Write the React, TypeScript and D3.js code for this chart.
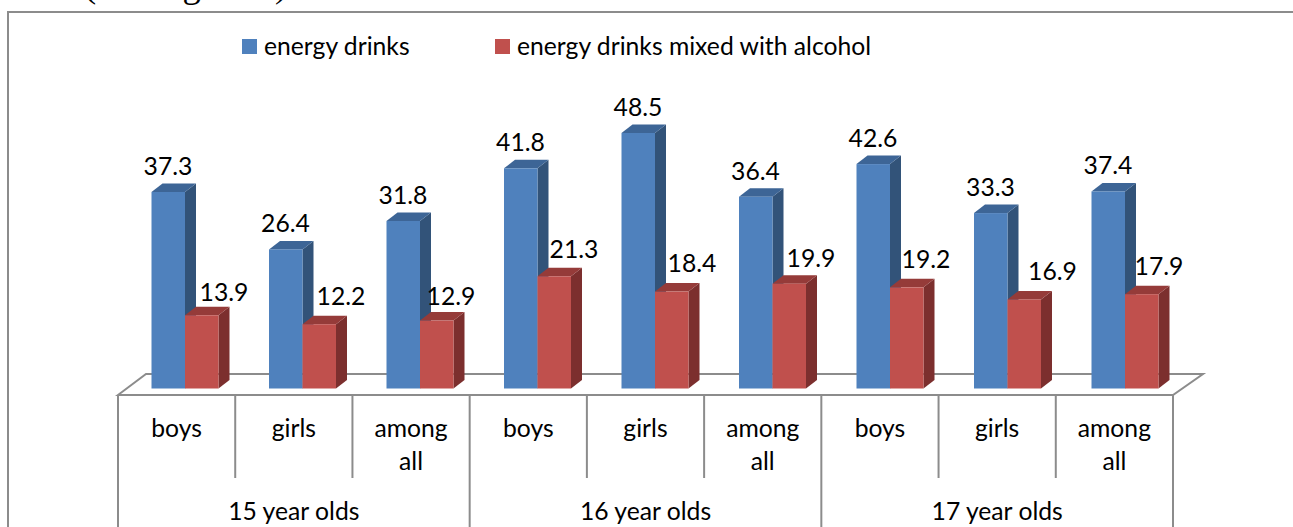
import React from "react";
import * as d3 from "d3";

const W = 1293, H = 527;
const categories = ["boys", "girls", "among all", "boys", "girls", "among all", "boys", "girls", "among all"];
const groups = ["15 year olds", "16 year olds", "17 year olds"];
const energy = [37.3, 26.4, 31.8, 41.8, 48.5, 36.4, 42.6, 33.3, 37.4];
const mixed = [13.9, 12.2, 12.9, 21.3, 18.4, 19.9, 19.2, 16.9, 17.9];
const seriesNames = ["energy drinks", "energy drinks mixed with alcohol"];
const FONT = "Lato, Carlito, sans-serif";
const FS = 24.7;

// label placement as the chart's manual layout left it
const mixedLabelDx = [39, 38.5, 31, 36.5, 37, 38.5, 36, 45, 34];
const mixedLabelDy = [-14, -19, -16, -18, -20, -17, -19, -19, -19];

const x = d3.scaleLinear().domain([0, 9]).range([118, 1173]);
const barX = d3.scaleLinear().domain([0, 8]).range([151.5, 1091.5]);
const y = d3.scaleLinear().domain([0, 48.5]).range([388.5, 133]);
const barW = 33.5, DX = 11, DY = 8.5;
const GRID = "#8c8c8c";

function Bar({ left, value, front, top, side, label, lx, dy }: any) {
  const t = y(value), b = y(0), r = left + barW;
  const p = (pts: number[][]) => pts.map((q) => q.join(",")).join(" ");
  return (
    <g>
      <polygon points={p([[r, t], [r + DX, t - DY], [r + DX, b - DY], [r, b]])} fill={side} />
      <polygon points={p([[left, t], [left + DX, t - DY], [r + DX, t - DY], [r, t]])} fill={top} />
      <rect x={left} y={t} width={barW} height={b - t} fill={front} />
      <text x={lx} y={t + dy} textAnchor="middle" fontSize={FS} fontFamily={FONT} fill="#000">{label}</text>
    </g>
  );
}

export default function App() {
  const yB = 395;
  return (
    <svg width={W} height={H} style={{ position: "absolute", left: 0, top: 0, background: "#fff" }}>
      <text x={84} y={-3.5} fontFamily="'Liberation Serif', serif" fontSize={36.6} fill="#000">(see Figure 3)</text>
      <path d={`M8 ${H}V12H${W}`} fill="none" stroke={GRID} strokeWidth={2} />

      <rect x={242} y={39} width={15} height={15} fill="#4f81bd" />
      <text x={264} y={54.5} fontSize={FS} fontFamily={FONT} fill="#000">{seriesNames[0]}</text>
      <rect x={495} y={39} width={15} height={15} fill="#c0504d" />
      <text x={517} y={54.5} fontSize={FS} fontFamily={FONT} fill="#000">{seriesNames[1]}</text>

      <path d={`M${x(0)} ${yB}L${x(0) + 28} 374H${x(9) + 30}L${x(9)} ${yB}Z`} fill="none" stroke={GRID} strokeWidth={2} />

      {categories.map((_, i) => {
        const left = barX(i);
        return (
          <g key={i}>
            <Bar left={left} value={energy[i]} front="#4f81bd" top="#3d6596" side="#325379" label={energy[i].toFixed(1)} lx={left + 16.5} dy={-17} />
            <Bar left={left + barW} value={mixed[i]} front="#c0504d" top="#953b39" side="#7c2f2e" label={mixed[i].toFixed(1)} lx={left + barW + mixedLabelDx[i]} dy={mixedLabelDy[i]} />
          </g>
        );
      })}

      {d3.range(10).map((i) => (
        <line key={i} x1={x(i)} x2={x(i)} y1={yB} y2={i % 3 === 0 ? H : 478} stroke={GRID} strokeWidth={2} />
      ))}

      {categories.map((c, i) => {
        const cx = x(i + 0.5);
        const words = c === "among all" ? ["among", "all"] : [c];
        return words.map((w, k) => (
          <text key={i + w} x={cx} y={437 + k * 33} textAnchor="middle" fontSize={FS} fontFamily={FONT} fill="#000">{w}</text>
        ));
      })}
      {groups.map((g, i) => (
        <text key={g} x={x(i * 3 + 1.5)} y={520} textAnchor="middle" fontSize={FS} fontFamily={FONT} fill="#000">{g}</text>
      ))}
    </svg>
  );
}
